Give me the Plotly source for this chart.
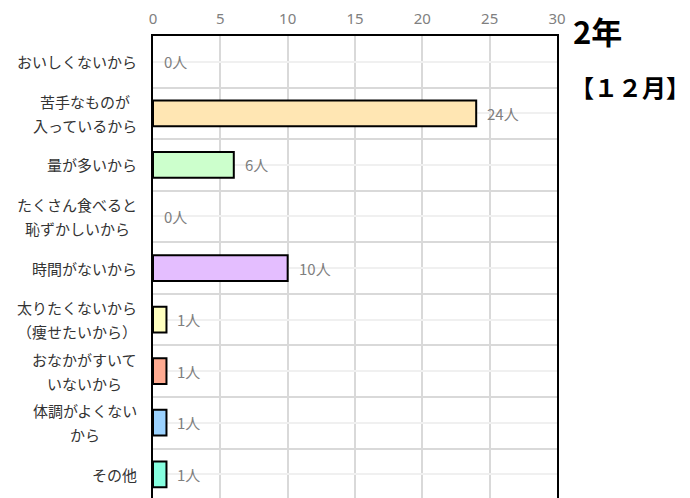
import plotly.graph_objects as go

# labels as shown (line breaks kept), values in 人
labels = [
    "おいしくないから",
    "苦手なものが<br>入っているから",
    "量が多いから",
    "たくさん食べると<br>恥ずかしいから",
    "時間がないから",
    "太りたくないから<br>（痩せたいから）",
    "おなかがすいて<br>いないから",
    "体調がよくない<br>から",
    "その他",
]
counts = [0, 24, 6, 0, 10, 1, 1, 1, 1]
bar_colors = ["#FFE6B3", "#FFE6B3", "#CCFFCC", "#CCFFCC", "#E4BEFF",
              "#FFFFBF", "#FFAA91", "#9BD2FF", "#86FFE0"]
x_ticks = [0, 5, 10, 15, 20, 25, 30]
title_year = "2年"
title_month = "【１２月】"

categories = [s.replace("<br>", "") for s in labels]
FONT = "Noto Sans CJK JP"
LABEL_SIZE = 15

fig = go.Figure()
fig.add_trace(go.Bar(
    x=counts, y=categories, orientation="h", width=0.5,
    marker=dict(color=bar_colors,
                line=dict(color="black", width=[0 if v == 0 else 2 for v in counts])),
    hoverinfo="skip", showlegend=False,
))
# invisible trace so the boundary grid axis gets drawn
fig.add_trace(go.Scatter(
    x=[0] * len(categories), y=categories, yaxis="y2", mode="markers",
    marker=dict(opacity=0), hoverinfo="skip", showlegend=False,
))

annotations = []
# value labels
for cat, v in zip(categories, counts):
    annotations.append(dict(
        x=v, y=cat, xref="x", yref="y", text="{}人".format(v),
        showarrow=False, xanchor="left", xshift=9,
        font=dict(family=FONT, size=15, color="#7f7f7f"),
    ))
# category labels, lines centred on each other
for cat, lab in zip(categories, labels):
    lines = lab.split("<br>")
    maxlen = max(len(l) for l in lines)
    n = len(lines)
    for i, line in enumerate(lines):
        annotations.append(dict(
            x=0, y=cat, xref="paper", yref="y", text=line,
            showarrow=False, xanchor="center",
            xshift=-(16 + maxlen * LABEL_SIZE / 2),
            yshift=(n - 1) * 12 - i * 24,
            font=dict(family=FONT, size=LABEL_SIZE, color="#333333"),
        ))
annotations.append(dict(
    x=1, y=1, xref="paper", yref="paper", text="<b>{}</b>".format(title_year),
    showarrow=False, xanchor="left", yanchor="middle", xshift=14, yshift=6,
    font=dict(family=FONT, size=31, color="black"),
))
annotations.append(dict(
    x=1, y=1, xref="paper", yref="paper", text="<b>{}</b>".format(title_month),
    showarrow=False, xanchor="left", yanchor="middle", xshift=11, yshift=-50,
    font=dict(family=FONT, size=24, color="black"),
))

fig.update_layout(
    width=682, height=490,
    margin=dict(l=145, r=133, t=23, b=0),
    paper_bgcolor="white", plot_bgcolor="white",
    xaxis=dict(
        side="top", range=[0, 30], tickvals=x_ticks,
        tickfont=dict(family="Noto Sans", size=15, color="#808080"),
        ticklabelstandoff=4,
        showgrid=True, gridcolor="#d9d9d9", gridwidth=2,
        showline=True, linecolor="black", linewidth=2,
        zeroline=False, ticks="", fixedrange=True,
    ),
    yaxis=dict(
        type="category", categoryorder="array", categoryarray=categories,
        range=[8.46, -0.5], showticklabels=False, ticks="",
        showgrid=True, gridcolor="#f0f0f0", gridwidth=2,
        showline=True, linecolor="black", linewidth=2, mirror=True,
        zeroline=False,
    ),
    yaxis2=dict(
        type="category", categoryorder="array", categoryarray=categories,
        overlaying="y", range=[8.46, -0.5], tickson="boundaries",
        showticklabels=False, ticks="", showgrid=True,
        gridcolor="#d9d9d9", gridwidth=2, showline=False, zeroline=False,
    ),
    annotations=annotations,
    bargap=0.5,
)

fig.write_html("out.html")
